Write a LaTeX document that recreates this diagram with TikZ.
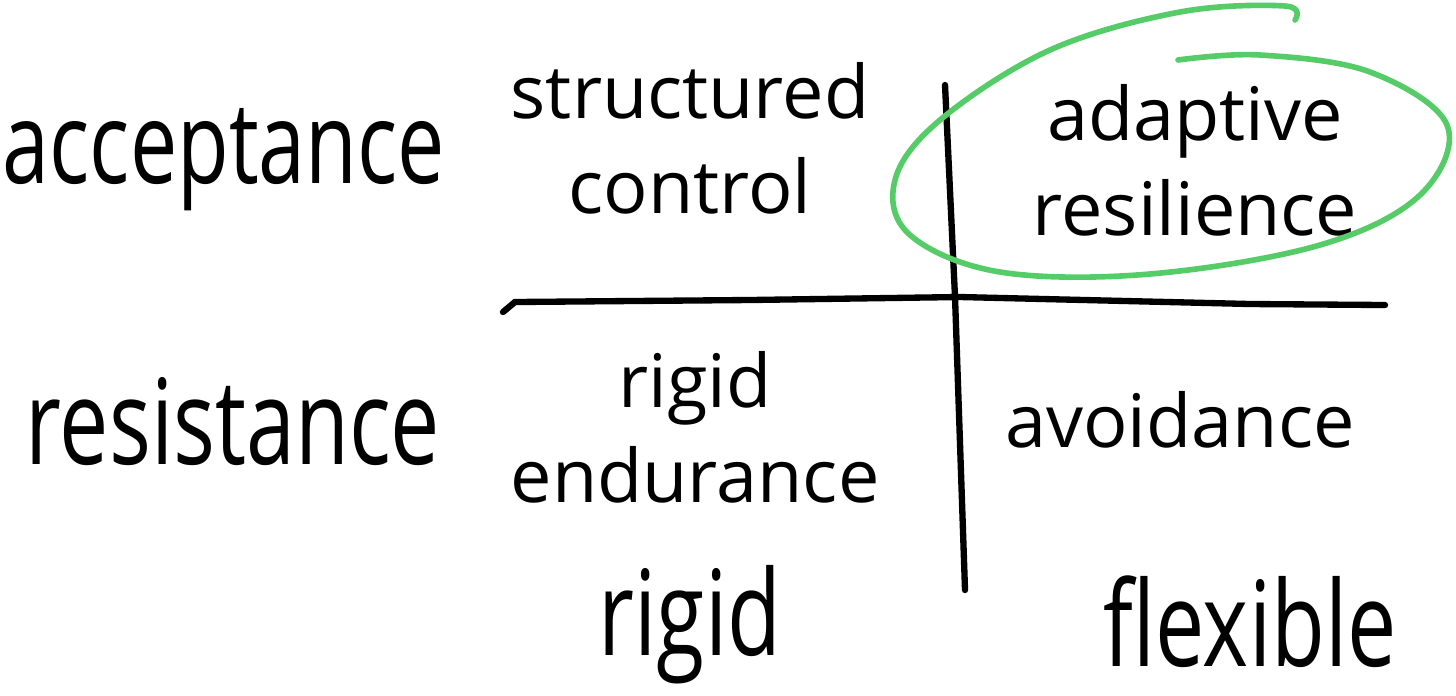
\documentclass[tikz,border=0pt]{standalone}
\usepackage{fontspec}
\setmainfont{Open Sans}
\usepackage{tikz}
\definecolor{markgreen}{RGB}{86,204,104}
\newcommand{\tallword}[1]{\scalebox{1}[1.35]{#1}}

\begin{document}
\begin{tikzpicture}[>=latex,
		axislabel/.style={font=\fontsize{25}{28}\selectfont},
		cell/.style={font=\fontsize{21}{27}\selectfont,align=center},
		stroke/.style={line width=1.8pt,line cap=round,black}]
		\useasboundingbox (0,0) rectangle (14.56,-6.95);

		\node[axislabel,font=\fontsize{24}{28}\selectfont] (accept) at (2.24,-1.6) {\tallword{acceptance}};
		\node[axislabel] (resist) at (2.33,-4.22) {\tallword{resistance}};
		\node[axislabel] (rigid) at (6.9,-6.25) {\tallword{rigid}};
		\node[axislabel] (flex) at (12.5,-6.22) {\tallword{flexible}};

		\node[cell] (control) at (6.9,-1.38) {structured\\control};
		\node[cell] (resil) at (11.95,-1.6) {adaptive\\resilience};
		\node[cell] (endure) at (6.95,-4.27) {rigid\\endurance};
		\node[cell] (avoid) at (11.8,-4.2) {avoidance};

		\coordinate (hl) at (5.03,-3.12);
		\coordinate (hr) at (13.85,-3.05);
		\coordinate (vt) at (9.45,-0.85);
		\coordinate (vb) at (9.65,-5.9);
		\draw[stroke] (hl) -- (5.15,-3.02) -- (7.5,-3.0) -- (9.6,-2.97) -- (12.5,-3.04) -- (hr);
		\draw[stroke] (vt) -- (9.55,-2.97) -- (vb);

		\draw[markgreen,line width=1.6pt,line cap=round] plot[smooth,tension=0.6] coordinates {
			(11.78,-0.6) (12.6,-0.55) (13.7,-0.72) (14.47,-1.25) (14.2,-1.95) (13.2,-2.45)
			(11.5,-2.74) (10.0,-2.72) (9.1,-2.35) (8.95,-1.8) (9.4,-1.2) (10.5,-0.5)
			(11.8,-0.12) (12.85,-0.06) (12.95,-0.2)};
	\end{tikzpicture}
\end{document}
